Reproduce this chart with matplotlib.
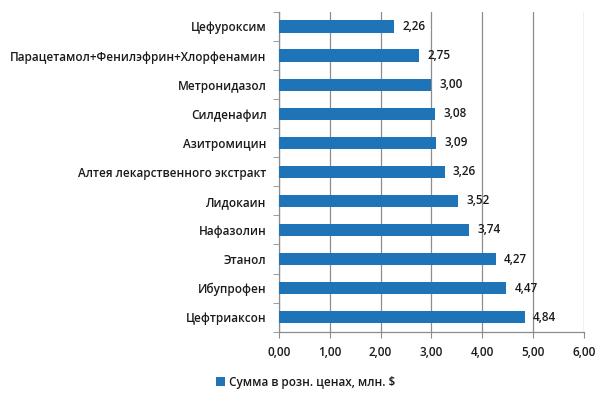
import matplotlib
matplotlib.use("Agg")
import matplotlib.pyplot as plt

plt.rcParams['font.family'] = ['Open Sans', 'DejaVu Sans']
plt.rcParams['font.weight'] = 'semibold'

# препараты сверху вниз
drugs = ['Цефуроксим', 'Парацетамол+Фенилэфрин+Хлорфенамин', 'Метронидазол',
         'Силденафил', 'Азитромицин', 'Алтея лекарственного экстракт',
         'Лидокаин', 'Нафазолин', 'Этанол', 'Ибупрофен', 'Цефтриаксон']
values = [2.26, 2.75, 3.00, 3.08, 3.09, 3.26, 3.52, 3.74, 4.27, 4.47, 4.84]
xticks = [0, 1, 2, 3, 4, 5, 6]
legend_label = 'Сумма в розн. ценах, млн. $'

bar_color = '#1f74b8'
grid_color = '#8c8c8c'
text_color = '#1a1a1a'

fig = plt.figure(figsize=(6, 3.98), dpi=100)
ax = fig.add_axes([0.465, 0.1666, 0.508, 0.8034])

n = len(drugs)
pos = list(range(n))
bars = ax.barh(pos, values, height=0.42, color=bar_color, label=legend_label, zorder=3)
ax.set_ylim(n - 0.5, -0.5)
ax.set_xlim(0, 6)

for p, v in zip(pos, values):
    ax.annotate(f'{v:.2f}'.replace('.', ','), (v, p), xytext=(6, 0),
                textcoords='offset points', va='center', ha='left',
                fontsize=8.5, color=text_color)

ax.set_xticks(xticks)
ax.set_xticklabels([f'{t:.2f}'.replace('.', ',') for t in xticks], fontsize=8.5,
                   color=text_color)
ax.set_yticks(pos)
ax.set_yticklabels(drugs, fontsize=8.5, color=text_color)
ax.tick_params(axis='y', length=0, pad=9)
ax.tick_params(axis='x', length=4, color=grid_color, pad=6)

# засечки между категориями
ax.set_yticks([i - 0.5 for i in range(n + 1)], minor=True)
ax.tick_params(axis='y', which='minor', length=4, color=grid_color)

ax.grid(axis='x', color=grid_color, linewidth=0.9, zorder=0)
for s in ['top', 'right']:
    ax.spines[s].set_visible(False)
for s in ['left', 'bottom']:
    ax.spines[s].set_color(grid_color)
    ax.spines[s].set_linewidth(0.9)

leg = fig.legend(handles=[bars], labels=[legend_label], loc='center',
                 bbox_to_anchor=(0.51, 0.04), frameon=False, fontsize=8.5,
                 handlelength=0.7, handleheight=0.7, handletextpad=0.4)
for t in leg.get_texts():
    t.set_color(text_color)

fig.savefig('out.png', dpi=100)
